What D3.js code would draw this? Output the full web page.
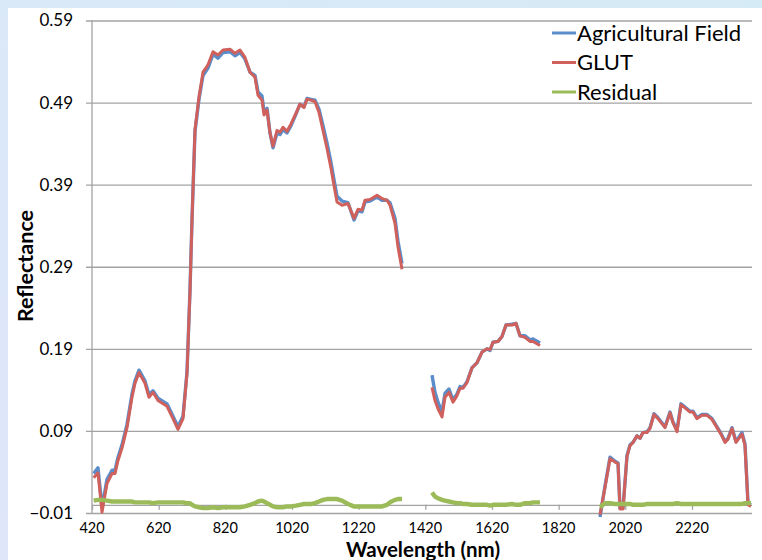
<!DOCTYPE html>
<html>
<head>
<meta charset="utf-8">
<script src="https://cdn.jsdelivr.net/npm/d3@7"></script>
<style>
  body{margin:0;padding:0;}
  svg{display:block;}
  text{font-family:Lato,"Open Sans",sans-serif;fill:#000;}
</style>
</head>
<body>
<svg id="chart"></svg>
<script>
/*
  Reflectance spectra: field, GLUT and residual
*/
// Wavelengths (nm); null rows break the line at the water bands
var wavelength = [425,438,450,465,480,489,498,510,525,540,549,561,579,591,603,618,645,663,678,693,705,714,720,729,741,753,768,783,798,813,834,849,864,879,894,909,918,930,936,945,954,963,975,984,993,1005,1017,1032,1044,1056,1065,1077,1089,1101,1113,1125,1137,1146,1155,1170,1188,1200,1206,1218,1230,1239,1254,1275,1290,1305,1314,1329,1338,1350,
  1400,
  1440,1449,1458,1470,1479,1491,1503,1515,1524,1533,1545,1560,1575,1590,1605,1614,1623,1638,1650,1662,1680,1692,1704,1719,1734,1743,1764,
  1850,
  1944,1959,1974,1989,1998,2004,2013,2025,2034,2043,2055,2064,2073,2085,2094,2106,2118,2139,2154,2163,2175,2187,2199,2214,2223,2235,2250,2265,2280,2295,2307,2319,2328,2340,2352,2370,2379,2388,2397];

var agriField = [0.038,0.045,-0.003,0.031,0.042,0.042,0.058,0.073,0.098,0.135,0.151,0.164,0.151,0.134,0.139,0.130,0.123,0.108,0.095,0.108,0.162,0.262,0.347,0.455,0.494,0.523,0.532,0.549,0.544,0.551,0.552,0.547,0.551,0.543,0.527,0.523,0.503,0.498,0.479,0.483,0.453,0.435,0.453,0.451,0.457,0.453,0.462,0.476,0.488,0.485,0.495,0.494,0.493,0.482,0.462,0.441,0.417,0.396,0.376,0.370,0.368,0.354,0.347,0.358,0.357,0.369,0.370,0.375,0.371,0.371,0.368,0.349,0.321,0.294,
  null,
  0.158,0.137,0.125,0.113,0.136,0.141,0.128,0.135,0.144,0.143,0.150,0.167,0.173,0.186,0.190,0.188,0.198,0.199,0.205,0.219,0.220,0.221,0.206,0.206,0.201,0.202,0.197,
  null,
  -0.015,0.023,0.058,0.053,0.051,-0.004,-0.004,0.060,0.073,0.076,0.084,0.081,0.088,0.089,0.094,0.111,0.106,0.095,0.113,0.101,0.091,0.123,0.119,0.114,0.114,0.106,0.110,0.110,0.105,0.095,0.087,0.077,0.081,0.094,0.077,0.088,0.074,0.002,0.000];

var glut = [0.033,0.039,-0.009,0.026,0.038,0.038,0.054,0.069,0.094,0.131,0.148,0.161,0.148,0.131,0.137,0.127,0.120,0.105,0.092,0.105,0.160,0.260,0.347,0.457,0.497,0.527,0.536,0.552,0.548,0.554,0.555,0.550,0.554,0.545,0.527,0.521,0.499,0.493,0.475,0.481,0.453,0.437,0.456,0.454,0.460,0.455,0.464,0.477,0.488,0.484,0.494,0.493,0.491,0.478,0.456,0.434,0.410,0.389,0.369,0.365,0.367,0.355,0.349,0.360,0.359,0.371,0.372,0.377,0.373,0.371,0.365,0.343,0.314,0.287,
  null,
  0.143,0.127,0.117,0.107,0.131,0.137,0.125,0.133,0.142,0.142,0.149,0.167,0.173,0.186,0.190,0.189,0.198,0.199,0.205,0.219,0.219,0.221,0.206,0.204,0.199,0.199,0.194,
  null,
  -0.012,0.021,0.056,0.052,0.050,-0.005,-0.005,0.059,0.072,0.076,0.084,0.081,0.088,0.088,0.093,0.110,0.105,0.094,0.112,0.100,0.089,0.122,0.118,0.113,0.113,0.105,0.109,0.109,0.104,0.094,0.086,0.076,0.080,0.093,0.076,0.086,0.072,0.000,-0.002];

var residual = [0.005,0.006,0.006,0.005,0.004,0.004,0.004,0.004,0.004,0.004,0.003,0.003,0.003,0.003,0.002,0.003,0.003,0.003,0.003,0.003,0.002,0.002,0.000,-0.002,-0.003,-0.004,-0.004,-0.003,-0.004,-0.003,-0.003,-0.003,-0.003,-0.002,0.000,0.002,0.004,0.005,0.004,0.002,0.000,-0.002,-0.003,-0.003,-0.003,-0.002,-0.002,-0.001,0.000,0.001,0.001,0.001,0.002,0.004,0.006,0.007,0.007,0.007,0.007,0.005,0.001,-0.001,-0.002,-0.002,-0.002,-0.002,-0.002,-0.002,-0.002,0.000,0.003,0.006,0.007,0.007,
  null,
  0.015,0.010,0.008,0.006,0.005,0.004,0.003,0.002,0.002,0.001,0.001,0.000,0.000,0.000,0.000,-0.001,0.000,0.000,0.000,0.000,0.001,0.000,0.000,0.002,0.002,0.003,0.003,
  null,
  -0.003,0.002,0.002,0.001,0.001,0.001,0.001,0.001,0.001,0.000,0.000,0.000,0.000,0.001,0.001,0.001,0.001,0.001,0.001,0.001,0.002,0.001,0.001,0.001,0.001,0.001,0.001,0.001,0.001,0.001,0.001,0.001,0.001,0.001,0.001,0.001,0.002,0.002,0.002];

var xTicks = [420,620,820,1020,1220,1420,1620,1820,2020,2220];
var yTicks = [-0.01,0.09,0.19,0.29,0.39,0.49,0.59];

var seriesNames = ["Agricultural Field","GLUT","Residual"];

//Canvas and margin setting
var chart = d3.select("#chart");
	chart.width = 762;
	chart.height = 560;
	chart.attr("width", chart.width).attr("height", chart.height);
	chart.margin = ({top: 20.5, right: 10, bottom: 47, left: 92});

//Color Setting
var blue = "#5b8dca",
  red = "#d0605c",
  green = "#9bbb59",
  gridgrey = "#a3a3a3";
var colors = [blue, red, green];

// background: pale blue frame and white chart area
var defs = chart.append("defs");
var grad = defs.append("linearGradient").attr("id", "bg")
    .attr("x1", "0%").attr("y1", "100%").attr("x2", "100%").attr("y2", "0%");
grad.append("stop").attr("offset", "0%").attr("stop-color", "#dfe6fa");
grad.append("stop").attr("offset", "100%").attr("stop-color", "#d5ebf5");
chart.append("rect").attr("width", chart.width).attr("height", chart.height).attr("fill", "url(#bg)");
chart.append("rect").attr("x", 8).attr("y", 8)
    .attr("width", chart.width - 8).attr("height", chart.height - 8).attr("fill", "#fff");

var plot = chart.append("g")
    .attr("transform", "translate(" + chart.margin.left + "," + chart.margin.top + ")");
plot.width = chart.width - chart.margin.left - chart.margin.right;
plot.height = chart.height - chart.margin.top - chart.margin.bottom;

// X and Y scale setting
var x = d3.scaleLinear().domain([420, 2400]).range([0, plot.width]);
var y = d3.scaleLinear().domain([-0.01, 0.59]).range([plot.height, 0]);

// horizontal gridlines + y axis
var yAxis = d3.axisLeft(y).tickValues(yTicks).tickSize(-plot.width - 6).tickPadding(0)
    .tickFormat(d3.format(".2f"));
var gy = plot.append("g").attr("transform", "translate(-6,0)").call(yAxis);
gy.select(".domain").remove();
gy.selectAll(".tick line").attr("stroke", gridgrey).attr("stroke-width", 1.3);
gy.selectAll(".tick text").attr("x", -13).attr("font-size", 17)
    .attr("font-family", "Lato, sans-serif").attr("fill", "#000");

plot.append("line").attr("x1", 0).attr("x2", 0).attr("y1", 0).attr("y2", plot.height)
    .attr("stroke", gridgrey).attr("stroke-width", 1.3);

// x axis crosses at zero, labels along the bottom
var xAxis = d3.axisBottom(x).tickValues(xTicks).tickSize(5).tickFormat("");
var gx = plot.append("g").attr("transform", "translate(0," + y(0) + ")").call(xAxis);
gx.select(".domain").attr("stroke", gridgrey).attr("stroke-width", 1.3).attr("d", "M0,0.5H" + plot.width);
gx.selectAll(".tick line").attr("stroke", gridgrey).attr("stroke-width", 1.3);

plot.selectAll(".xlabel")
    .data(xTicks)
    .enter().append("text")
    .attr("class", "xlabel")
    .attr("x", function(d){ return x(d); })
    .attr("y", plot.height + 20)
    .attr("text-anchor", "middle")
    .attr("font-size", 14.5)
    .text(function(d){ return d; });

// the three lines
var rows = wavelength.map(function(w, i){ return [w, agriField[i], glut[i], residual[i]]; });
var series = [agriField, glut, residual];
var widths = [3.4, 3, 4.4];

series.forEach(function(s, k){
    var line = d3.line()
        .defined(function(d){ return d[k + 1] !== null; })
        .x(function(d){ return x(d[0]); })
        .y(function(d){ return y(d[k + 1]); });
    plot.append("path")
        .datum(rows)
        .attr("fill", "none")
        .attr("stroke", colors[k])
        .attr("stroke-width", widths[k])
        .attr("stroke-linejoin", "round")
        .attr("d", line);
});

// legend
var legend = chart.append("g").attr("transform", "translate(552,33)");
var item = legend.selectAll(".legitem")
    .data(seriesNames)
    .enter().append("g")
    .attr("class", "legitem")
    .attr("transform", function(d, i){ return "translate(0," + (i * 29.5) + ")"; });
item.append("line").attr("x1", 0).attr("x2", 24).attr("y1", 0).attr("y2", 0)
    .attr("stroke", function(d, i){ return colors[i]; }).attr("stroke-width", 3);
item.append("text").attr("x", 25).attr("dy", "0.35em").attr("font-size", 22)
    .text(function(d){ return d; });

// axis titles
chart.append("text")
    .attr("x", 423).attr("y", 557)
    .attr("text-anchor", "middle")
    .attr("font-size", 20.5).attr("font-weight", "bold")
    .text("Wavelength (nm)");
chart.append("text")
    .attr("transform", "translate(33,266) rotate(-90)")
    .attr("text-anchor", "middle")
    .attr("font-size", 21.5).attr("font-weight", "bold")
    .text("Reflectance");
</script>
</body>
</html>
